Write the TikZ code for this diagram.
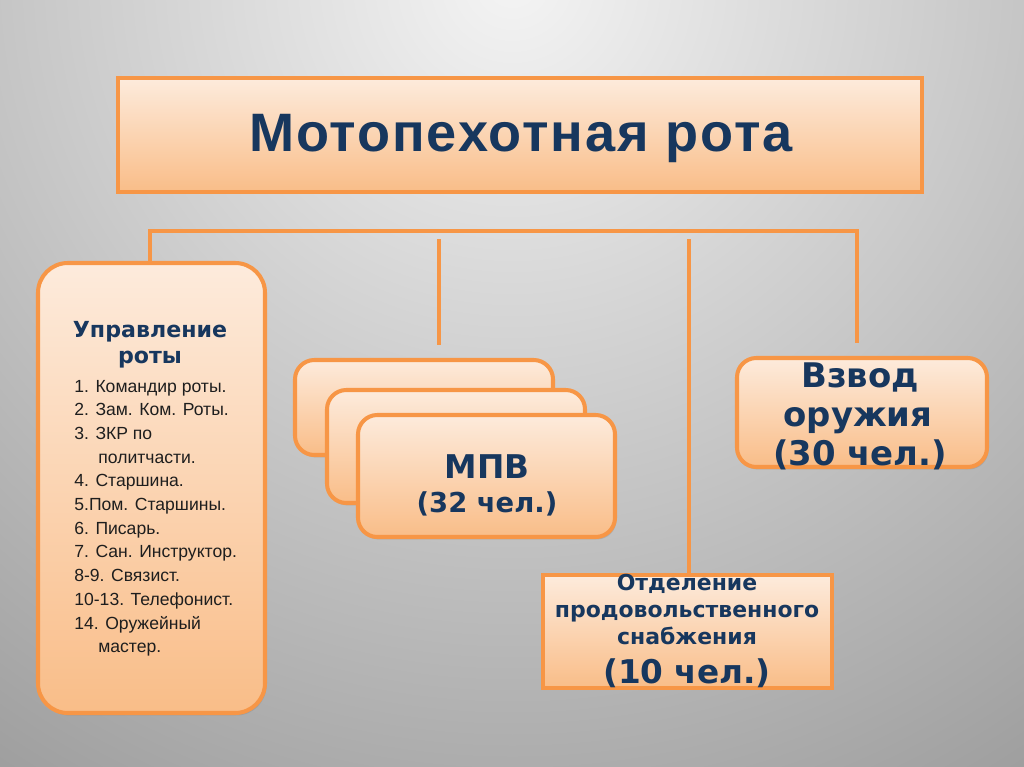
\documentclass[tikz,border=0pt]{standalone}
\usepackage{fontspec}
\setmainfont{Liberation Sans}
\newfontfamily\titlefont[LetterSpace=3.5]{Liberation Sans}
\newfontfamily\heavyfont{DejaVu Sans}
\usetikzlibrary{shadows,fit}
\definecolor{orangeline}{HTML}{F79646}
\definecolor{peachtop}{HTML}{FDEBDC}
\definecolor{peachbot}{HTML}{F9BD88}
\definecolor{navy}{HTML}{17375E}
\definecolor{listtext}{HTML}{1E1E1E}
\definecolor{bgin}{HTML}{F4F4F4}
\definecolor{bgout}{HTML}{878787}
\begin{document}
\begin{tikzpicture}[x=0.02cm,y=-0.02cm,
  box/.style={draw=orangeline, line width=2.3pt, top color=peachtop, bottom color=peachbot,
    inner sep=0pt, drop shadow={opacity=0.3, shadow xshift=0.8pt, shadow yshift=-1.4pt}},
  rbox/.style={box, rounded corners=11pt},
  conn/.style={draw=orangeline, line width=2.1pt},
  lbl/.style={anchor=base, inner sep=0pt, text=navy},
  heavy/.style={lbl, font=\heavyfont\bfseries\fontsize{#1}{#1}\selectfont},
  listline/.style={anchor=base west, inner sep=0pt, text=listtext, font=\fontsize{10}{11}\selectfont}
]
% background
\useasboundingbox (0,0) rectangle (1024,767);
\begin{scope}
  \clip (0,0) rectangle (1024,767);
  \shade[inner color=bgin, outer color=bgout] (512,-20) circle[radius=24cm];
\end{scope}

% title
\node[box, fit={(118,78) (922,192)}] (title) {};
\node[lbl, font=\titlefont\bfseries\fontsize{30.8}{31}\selectfont] (titletext) at (521,152) {Мотопехотная рота};

% left box
\node[box, rounded corners=17pt, fit={(38,263) (265,713)}] (upr) {};
\node[heavy=12.6] (upr1) at (150,337) {Управление};
\node[heavy=12.6] (upr2) at (150,363) {роты};
\node[listline] (l1) at (74,392) {1. Командир роты.};
\node[listline] (l2) at (74,415.7) {2. Зам. Ком. Роты.};
\node[listline] (l3) at (74,439.4) {3. ЗКР по};
\node[listline] (l3b) at (98,463.1) {политчасти.};
\node[listline] (l4) at (74,486.8) {4. Старшина.};
\node[listline] (l5) at (74,510.5) {5.Пом. Старшины.};
\node[listline] (l6) at (74,534.2) {6. Писарь.};
\node[listline] (l7) at (74,557.9) {7. Сан. Инструктор.};
\node[listline] (l8) at (74,581.6) {8-9. Связист.};
\node[listline] (l9) at (74,605.3) {10-13. Телефонист.};
\node[listline] (l10) at (74,629) {14. Оружейный};
\node[listline] (l10b) at (98,652.7) {мастер.};

% stacked MPV boxes
\node[rbox, fit={(295,360) (553,455)}] (mpv1) {};
\node[rbox, fit={(327,390) (585,503)}] (mpv2) {};
\node[rbox, fit={(358,415) (615,537)}] (mpv3) {};
\node[heavy=18.6] (mpvt1) at (487,478) {МПВ};
\node[heavy=15.6] (mpvt2) at (487,512) {(32 чел.)};

% weapons platoon
\node[rbox, fit={(737,358) (987,467)}] (vzv) {};
\node[heavy=19.3] (vzv1) at (860,387) {Взвод};
\node[heavy=19.3] (vzv2) at (858,426) {оружия};
\node[heavy=19.3] (vzv3) at (860,465) {(30 чел.)};

% food supply section
\node[box, fit={(543,575) (832,688)}] (food) {};
\node[heavy=12.5] (food1) at (687,590) {Отделение};
\node[heavy=12.5] (food2) at (687,617) {продовольственного};
\node[heavy=12.5] (food3) at (687,644) {снабжения};
\node[heavy=18.6] (food4) at (687,683) {(10 чел.)};

% connectors
\coordinate (hl) at (150,231);
\coordinate (hr) at (857,231);
\coordinate (vzvend) at (857,343);
\coordinate (m1top) at (439,239);
\coordinate (m1end) at (439,345);
\coordinate (m2top) at (689,239);
\draw[conn] (hl |- upr.north) -- (hl) -- (hr) -- (vzvend);
\draw[conn] (m1top) -- (m1end);
\draw[conn] (m2top) -- (m2top |- food.north);
\end{tikzpicture}
\end{document}
